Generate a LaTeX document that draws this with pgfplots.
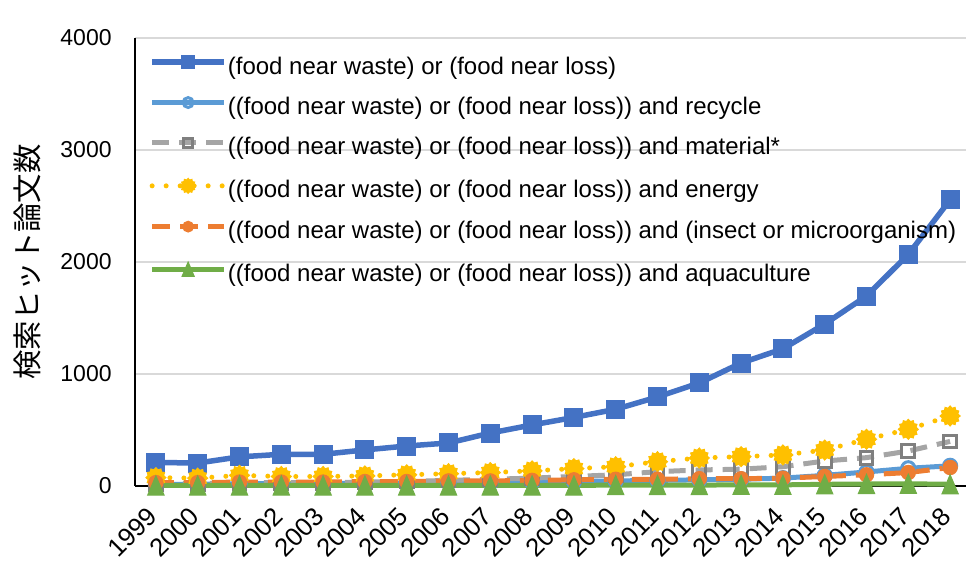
\documentclass[border=0pt]{standalone}
\usepackage{fontspec}
\setmainfont{Liberation Sans}
\newfontfamily\jp{Noto Sans CJK JP}
\usepackage{pgfplots}
\pgfplotsset{compat=1.18}
\definecolor{cBlue}{HTML}{4472C4}
\definecolor{cLBlue}{HTML}{5B9BD5}
\definecolor{cGray}{HTML}{A5A5A5}
\definecolor{cDGray}{HTML}{7F7F7F}
\definecolor{cYel}{HTML}{FFC000}
\definecolor{cOra}{HTML}{ED7D31}
\definecolor{cGrn}{HTML}{70AD47}
\definecolor{cGrid}{HTML}{D9D9D9}
\newcommand\bp[2]{\pgfpathlineto{\pgfpointpolar{#1}{#2\pgfplotmarksize}}}
\pgfdeclareplotmark{burst}{%
  \pgfpathmoveto{\pgfpointpolar{0}{\pgfplotmarksize}}%
  \bp{15}{0.8}\bp{30}{1}\bp{45}{0.8}\bp{60}{1}\bp{75}{0.8}\bp{90}{1}%
  \bp{105}{0.8}\bp{120}{1}\bp{135}{0.8}\bp{150}{1}\bp{165}{0.8}\bp{180}{1}%
  \bp{195}{0.8}\bp{210}{1}\bp{225}{0.8}\bp{240}{1}\bp{255}{0.8}\bp{270}{1}%
  \bp{285}{0.8}\bp{300}{1}\bp{315}{0.8}\bp{330}{1}\bp{345}{0.8}%
  \pgfpathclose
  \pgfusepathqfillstroke
}
\pgfdeclareplotmark{xtri}{%
  \pgfpathmoveto{\pgfqpoint{0pt}{\pgfplotmarksize}}%
  \pgfpathlineto{\pgfqpoint{0.85\pgfplotmarksize}{-\pgfplotmarksize}}%
  \pgfpathlineto{\pgfqpoint{-0.85\pgfplotmarksize}{-\pgfplotmarksize}}%
  \pgfpathclose
  \pgfusepathqfillstroke
}
\pgfplotstableread{
year blue recycle material energy insect aqua
1999 210 15 20 75 30 5
2000 205 15 20 70 30 5
2001 260 20 30 95 35 5
2002 283 20 30 85 35 5
2003 283 20 30 85 35 5
2004 322 25 35 90 40 5
2005 357 25 40 100 40 5
2006 384 30 50 110 45 5
2007 473 30 60 120 45 5
2008 545 35 70 135 50 5
2009 612 40 85 155 55 5
2010 685 45 100 172 60 8
2011 795 50 128 217 60 8
2012 920 55 143 250 65 8
2013 1098 60 150 262 65 10
2014 1225 70 172 277 70 10
2015 1446 95 223 321 85 15
2016 1696 125 253 417 100 18
2017 2068 158 312 506 120 20
2018 2555 180 398 625 165 15
}\datatable
\begin{document}
\begin{tikzpicture}
\useasboundingbox (0,0) rectangle (483pt,282.5pt);
\begin{axis}[
  at={(67.5pt,39.5pt)}, anchor=south west,
  scale only axis, width=415.5pt, height=224pt,
  xmin=1998.5, xmax=2018.38, ymin=0, ymax=4000,
  xtick={1999,...,2018}, ytick={0,1000,2000,3000,4000},
  axis x line*=bottom, axis y line*=left,
  axis line style={black, line width=1pt},
  ymajorgrids, grid style={cGrid, line width=1pt},
  major tick length=0pt,
  clip=false,
  /pgf/number format/assume math mode=true,
  /pgf/number format/1000 sep={},
  tick label style={text=black},
  yticklabel style={inner sep=0pt, xshift=-11.5pt, font=\fontsize{11.5}{13}\selectfont},
  xticklabel style={xshift=-1.5pt, rotate=45, anchor=east, inner sep=0pt, font=\fontsize{12.8}{14}\selectfont},
  xticklabel shift=13pt,
  ylabel={\jp 検索ヒット論文数},
  every axis y label/.style={at={(axis description cs:-0.13,0.5)}, rotate=90, anchor=center, font=\fontsize{14.7}{16}\selectfont},
  legend cell align=left,
  legend style={at={(axis description cs:0,1)}, anchor=north west, xshift=7pt, yshift=-8.5pt,
    draw=none, fill=none, inner sep=0pt, row sep=9.2pt,
    font=\fontsize{12}{14}\selectfont,
    nodes={inner sep=0pt, text height=8.5pt, text depth=2.5pt},
    /tikz/every odd column/.append style={column sep=0.5pt}},
  legend image code/.code={\draw[#1, /tikz/every mark/.append style={scale=0.75}, mark repeat=2, mark phase=2] plot coordinates {(0pt,3pt) (18pt,3pt) (36pt,3pt)};},
]
\addplot[cBlue, line width=2.75pt, mark=square*, mark size=4.5pt, mark options={solid, fill=cBlue, draw=cBlue, line width=0.5pt}] table[x=year, y=blue] {\datatable};
\addlegendentry{(food near waste) or (food near loss)}
\addplot[cLBlue, line width=2.5pt, mark=o, mark size=3.3pt, mark options={solid, fill=white, draw=cLBlue, line width=1.5pt}] table[x=year, y=recycle] {\datatable};
\addlegendentry{((food near waste) or (food near loss)) and recycle}
\addplot[cGray, line width=2.5pt, dash pattern=on 8.5pt off 5pt, mark=square, mark size=3.2pt, mark options={solid, fill=white, draw=cDGray, line width=1.5pt}] table[x=year, y=material] {\datatable};
\addlegendentry{((food near waste) or (food near loss)) and material*}
\addplot[cYel, line width=2.5pt, line cap=round, dash pattern=on 0pt off 7pt, mark=burst, mark size=5pt, mark options={solid, fill=cYel, draw=cYel, line width=0.5pt}] table[x=year, y=energy] {\datatable};
\addlegendentry{((food near waste) or (food near loss)) and energy}
\addplot[cOra, line width=2.5pt, dash pattern=on 9pt off 5pt, mark=*, mark size=3.6pt, mark options={solid, fill=cOra, draw=cOra, line width=0.5pt}] table[x=year, y=insect] {\datatable};
\addlegendentry{((food near waste) or (food near loss)) and (insect or microorganism)}
\addplot[cGrn, line width=2.5pt, mark=xtri, mark size=4.8pt, mark options={solid, fill=cGrn, draw=cGrn, line width=0.5pt}] table[x=year, y=aqua] {\datatable};
\addlegendentry{((food near waste) or (food near loss)) and aquaculture}
\end{axis}
\end{tikzpicture}
\end{document}
